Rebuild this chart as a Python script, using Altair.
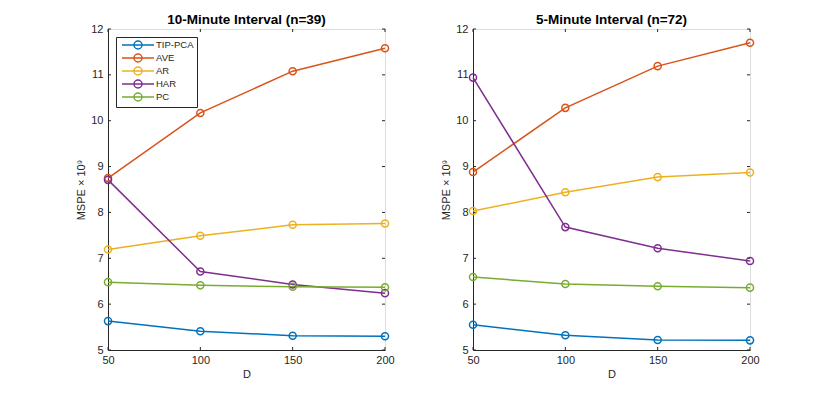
import altair as alt
import pandas as pd

D = [50, 100, 150, 200]
methods = ["TIP-PCA", "AVE", "AR", "HAR", "PC"]
colors = ["#0072BD", "#D95319", "#EDB120", "#7E2F8E", "#77AC30"]

# 10-minute interval (n=39)
p1_tip = [5.63, 5.41, 5.31, 5.30]
p1_ave = [8.75, 10.17, 11.08, 11.58]
p1_ar = [7.19, 7.49, 7.73, 7.76]
p1_har = [8.71, 6.71, 6.43, 6.24]
p1_pc = [6.48, 6.41, 6.38, 6.37]

# 5-minute interval (n=72)
p2_tip = [5.55, 5.32, 5.22, 5.21]
p2_ave = [8.88, 10.28, 11.19, 11.70]
p2_ar = [8.03, 8.44, 8.77, 8.87]
p2_har = [10.94, 7.68, 7.22, 6.94]
p2_pc = [6.59, 6.44, 6.39, 6.36]

x_ticks = [50, 100, 150, 200]
y_ticks = [5, 6, 7, 8, 9, 10, 11, 12]

W, H = 277, 321
TL = 3
FONT = "Liberation Sans"
TXT = "#262626"


def make_df(series):
    rows = []
    for m, vals in zip(methods, series):
        for d, v in zip(D, vals):
            rows.append({"D": d, "method": m, "value": v})
    return pd.DataFrame(rows)


xs = alt.Scale(domain=[50, 200], nice=False, zero=False)
ys = alt.Scale(domain=[5, 12], nice=False, zero=False)
cs = alt.Scale(domain=methods, range=colors)

# legend glyph: line with an open circle in the middle
legend_path = "M-0.5,0L7.5,0M4.5,0A1,1,0,1,1,2.5,0A1,1,0,1,1,4.5,0"


def panel(series, title, show_legend):
    df = make_df(series)
    xax = alt.Axis(values=x_ticks, title="D", ticks=False, grid=False, labelFlush=False,
                   labelFont=FONT, labelFontSize=11, labelColor=TXT,
                   titleFont=FONT, titleFontSize=11, titleFontWeight="normal",
                   titleColor=TXT, domainColor=TXT, labelPadding=4, titlePadding=3)
    yax = alt.Axis(values=y_ticks, title="MSPE × 10⁹", ticks=False, grid=False, labelFlush=False,
                   labelFont=FONT, labelFontSize=11, labelColor=TXT,
                   titleFont=FONT, titleFontSize=11, titleFontWeight="normal",
                   titleColor=TXT, domainColor=TXT, labelPadding=5, titlePadding=4)
    if show_legend:
        leg = alt.Legend(
            title=None, orient="top-left", offset=8,
            symbolType=legend_path, symbolSize=64, symbolStrokeWidth=1.5,
            symbolFillColor="transparent", labelFont=FONT, labelFontSize=9.5,
            labelColor=TXT, labelOffset=27, strokeColor=TXT, fillColor="white",
            padding=3, rowPadding=-1,
        )
    else:
        leg = None
    base = alt.Chart(df)
    line = base.mark_line(strokeWidth=1.5).encode(
        x=alt.X("D:Q", scale=xs, axis=xax),
        y=alt.Y("value:Q", scale=ys, axis=yax),
        stroke=alt.Stroke("method:N", scale=cs, sort=methods, legend=leg),
        detail="method:N",
    )
    pts = base.mark_point(filled=False, size=50, strokeWidth=1.5, opacity=1).encode(
        x=alt.X("D:Q", scale=xs),
        y=alt.Y("value:Q", scale=ys),
        stroke=alt.Stroke("method:N", scale=cs, sort=methods, legend=None),
    )
    xt = pd.DataFrame({"D": x_ticks})
    yt = pd.DataFrame({"v": y_ticks})
    tk = dict(color=TXT, strokeWidth=1)
    xb = alt.Chart(xt).mark_rule(**tk).encode(x=alt.X("D:Q", scale=xs), y=alt.value(H), y2=alt.value(H - TL))
    xtp = alt.Chart(xt).mark_rule(**tk).encode(x=alt.X("D:Q", scale=xs), y=alt.value(0), y2=alt.value(TL))
    yl = alt.Chart(yt).mark_rule(**tk).encode(y=alt.Y("v:Q", scale=ys), x=alt.value(0), x2=alt.value(TL))
    yr = alt.Chart(yt).mark_rule(**tk).encode(y=alt.Y("v:Q", scale=ys), x=alt.value(W), x2=alt.value(W - TL))
    return alt.layer(xb, xtp, yl, yr, line, pts).properties(
        width=W, height=H,
        title=alt.TitleParams(title, font=FONT, fontSize=13.5, fontWeight="bold",
                              color="black", frame="group", offset=-3),
    )


left = panel([p1_tip, p1_ave, p1_ar, p1_har, p1_pc], "10-Minute Interval (n=39)", True)
right = panel([p2_tip, p2_ave, p2_ar, p2_har, p2_pc], "5-Minute Interval (n=72)", False)

chart = alt.hconcat(left, right, spacing=45).resolve_legend(stroke="independent").properties(
    padding={"left": 67, "top": 4, "right": 0, "bottom": 0},
).configure_view(stroke=TXT, strokeWidth=1).configure(background="white")

chart.save("out.html", embed_options={"renderer": "svg", "actions": False})
